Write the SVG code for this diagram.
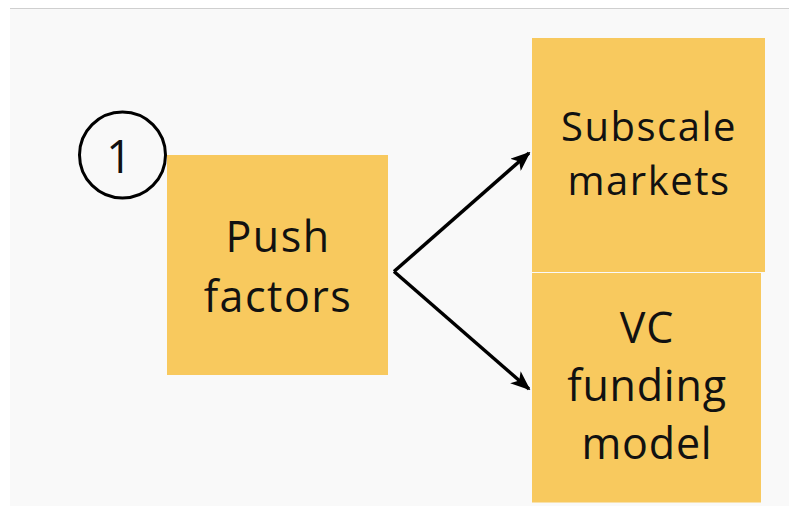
<svg xmlns="http://www.w3.org/2000/svg" width="789" height="506" viewBox="0 0 789 506">
  <style>
    .box { fill: #F8C95E; }
    .label { font-family: "Open Sans", Lato, sans-serif; fill: #111; text-anchor: middle; }
    .link { fill: none; stroke: #000; stroke-width: 3.5; }
  </style>
  <defs>
    <marker id="arrow" viewBox="0 0 20 16" refX="18" refY="8" markerWidth="20" markerHeight="16" markerUnits="userSpaceOnUse" orient="auto">
      <path d="M0,0 L20,8 L0,16 L5,8 Z" fill="#000"/>
    </marker>
  </defs>

  <!-- canvas -->
  <rect x="0" y="0" width="789" height="506" fill="#ffffff"/>
  <rect x="10" y="8" width="779" height="498" fill="#f9f9f9"/>
  <line x1="10" y1="8.5" x2="789" y2="8.5" stroke="#cfcfcf" stroke-width="1"/>

  <g id="push-factors">
    <rect class="box" x="167" y="155" width="221" height="220"/>
    <text class="label" x="278" y="252" font-size="43" letter-spacing="1.5">Push</text>
    <text class="label" x="278" y="312" font-size="43" letter-spacing="1.5">factors</text>
  </g>

  <g id="step-1">
    <circle cx="122.5" cy="155" r="43" fill="none" stroke="#000" stroke-width="3"/>
    <text class="label" x="119" y="173" font-size="45">1</text>
  </g>

  <g id="subscale-markets">
    <rect class="box" x="532" y="38" width="233" height="234"/>
    <text class="label" x="649" y="141" font-size="40" letter-spacing="1.5">Subscale</text>
    <text class="label" x="649" y="195" font-size="40" letter-spacing="1.5">markets</text>
  </g>

  <g id="vc-funding-model">
    <rect class="box" x="532" y="273" width="229" height="229.5"/>
    <text class="label" x="647" y="343" font-size="43" letter-spacing="0.8">VC</text>
    <text class="label" x="647" y="401" font-size="43" letter-spacing="0.8">funding</text>
    <text class="label" x="647" y="459" font-size="43" letter-spacing="0.8">model</text>
  </g>

  <g id="connectors">
    <polyline class="link" points="394,271.5 529,153" marker-end="url(#arrow)"/>
    <polyline class="link" points="394,271.5 529,389" marker-end="url(#arrow)"/>
  </g>
</svg>
